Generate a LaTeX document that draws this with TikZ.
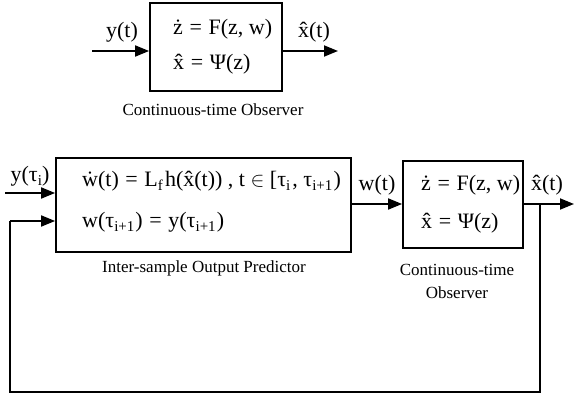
\documentclass[tikz,border=0pt]{standalone}
\usepackage{fontspec}
\setmainfont{Liberation Serif}
\usetikzlibrary{arrows.meta}
\newcommand\lo[1]{\raisebox{-0.4ex}{\fontsize{15}{15}\selectfont #1}}
\newcommand\mydot[1]{\accent"02D9 #1}
\newcommand\myhat[1]{\accent"02C6 #1}
\newcommand\eqs{\hspace{0.3em}=\hspace{0.3em}}
\tikzset{
  blk/.style={draw, line width=1.8pt, inner sep=0pt},
  eqtxt/.style={anchor=west, inner sep=0pt, font=\fontsize{22}{26}\selectfont},
  lbl/.style={inner sep=0pt, font=\fontsize{22}{26}\selectfont},
  captxt/.style={inner sep=0pt, font=\fontsize{17}{20}\selectfont},
  arr/.style={line width=1.8pt, -{Triangle[length=14pt,width=11pt]}},
  ln/.style={line width=1.8pt}
}
\begin{document}
\begin{tikzpicture}[x=1pt,y=-1pt]
\useasboundingbox (0,0) rectangle (574,398);
% top observer
\node[blk, minimum width=132pt, minimum height=88pt] (obs1) at (216,47) {};
\node[eqtxt] (e1) at (173,29) {ż\eqs F(z, w)};
\node[eqtxt] (e2) at (173,64) {\myhat{x}\eqs Ψ(z)};
\node[captxt] (c1) at (213,110) {Continuous-time Observer};
\coordinate (yin) at (92,51);
\coordinate (xout) at (338,51);
\draw[arr] (yin) -- (yin -| obs1.west);
\draw[arr] (xout -| obs1.east) -- (xout);
\node[lbl] (ly) at (122,32) {y(t)};
\node[lbl] (lx) at (314,32) {\myhat{x}(t)};
% predictor
\node[blk, minimum width=295pt, minimum height=94pt] (pred) at (203.5,205) {};
\node[eqtxt] (p1) at (82,181) {\mydot{w}(t)\eqs L\lo{f}\hspace{0.1em}h(\myhat{x}(t)) , t $\in$ [τ\lo{i}\hspace{0.1em}, τ\lo{i+1}\hspace{0.05em})};
\node[eqtxt] (p2) at (82,222) {w(τ\lo{i+1}\hspace{0.05em})\eqs y(τ\lo{i+1}\hspace{0.05em})};
\node[captxt] (c2) at (204,268) {Inter-sample Output Predictor};
% observer 2
\node[blk, minimum width=120pt, minimum height=87pt] (obs2) at (463,204.5) {};
\node[eqtxt] (o1) at (421,185) {ż\eqs F(z, w)};
\node[eqtxt] (o2) at (421,223) {\myhat{x}\eqs Ψ(z)};
\node[captxt] (c3) at (457,270) {Continuous-time};
\node[captxt] (c4) at (457,293) {Observer};
% connectors
\coordinate (uin) at (5,193);
\draw[arr] (uin) -- (uin -| pred.west);
\node[lbl] (lu) at (30,176) {y(τ\lo{i})};
\coordinate (wst) at (351,204);
\draw[arr] (wst -| pred.east) -- (wst -| obs2.west);
\node[lbl] (lw) at (377,185) {w(t)};
\coordinate (xo) at (574,204);
\coordinate (br) at (540,204);
\draw[arr] (obs2.east |- xo) -- (xo);
\node[lbl] (lx2) at (547,185) {\myhat{x}(t)};
\coordinate (c1b) at (540,392);
\coordinate (c2b) at (10,392);
\coordinate (fb) at (10,221);
\draw[ln, line join=miter] (br) -- (c1b) -- (c2b) -- (fb);
\draw[arr] (fb) -- (fb -| pred.west);
\end{tikzpicture}
\end{document}
